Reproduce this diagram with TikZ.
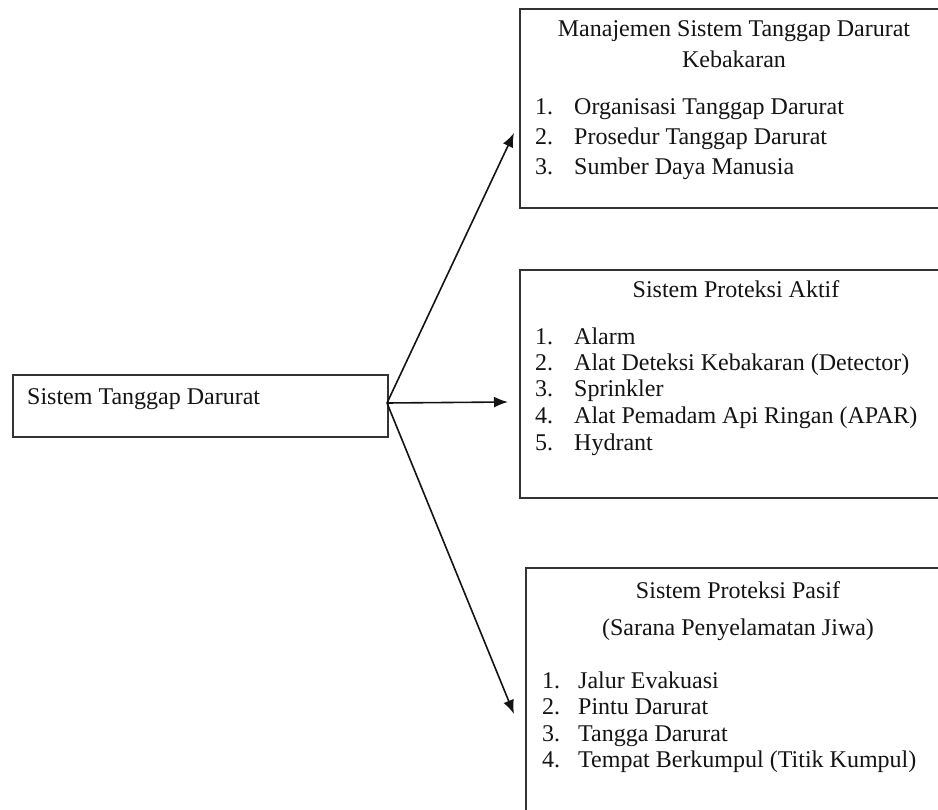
\documentclass[tikz,border=0pt]{standalone}
\usepackage{fontspec}
\setmainfont{Liberation Serif}
\usetikzlibrary{arrows.meta}
\definecolor{ink}{HTML}{141414}
\definecolor{frame}{HTML}{333333}
\tikzset{
  panel/.style={draw=frame, line width=2pt, rectangle, inner sep=0pt, anchor=north west},
  txt/.style={inner sep=0pt, anchor=base west, text=ink, font=\fontsize{24}{30}\selectfont},
  head/.style={txt, anchor=base},
  link/.style={draw=ink, line width=1.6pt, -{Latex[length=14pt,width=11pt]}}
}
\begin{document}
\begin{tikzpicture}[x=1pt, y=-1pt]
\useasboundingbox[fill=white] (0,0) rectangle (938,810);

% source box
\node[panel, minimum width=375pt, minimum height=62pt] (src) at (12,374) {};
\node[txt] (srcT) at (27,405) {Sistem Tanggap Darurat};

% box 1: emergency response management
\node[panel, minimum width=430pt, minimum height=199pt] (b1) at (519,8) {};
\node[head] (b1h1) at (734,37) {Manajemen Sistem Tanggap Darurat};
\node[head] (b1h2) at (734,68) {Kebakaran};
\node[txt] (b1n1) at (535,115) {1.};
\node[txt] (b1i1) at (574,115) {Organisasi Tanggap Darurat};
\node[txt] (b1n2) at (535,145) {2.};
\node[txt] (b1i2) at (574,145) {Prosedur Tanggap Darurat};
\node[txt] (b1n3) at (535,175) {3.};
\node[txt] (b1i3) at (574,175) {Sumber Daya Manusia};

% box 2: active protection
\node[panel, minimum width=430pt, minimum height=228pt] (b2) at (519,269) {};
\node[head] (b2h1) at (736,298) {Sistem Proteksi Aktif};
\node[txt] (b2n1) at (535,345) {1.};
\node[txt] (b2i1) at (574,345) {Alarm};
\node[txt] (b2n2) at (535,371) {2.};
\node[txt] (b2i2) at (574,371) {Alat Deteksi Kebakaran (Detector)};
\node[txt] (b2n3) at (535,397) {3.};
\node[txt] (b2i3) at (574,397) {Sprinkler};
\node[txt] (b2n4) at (535,424) {4.};
\node[txt] (b2i4) at (574,424) {Alat Pemadam Api Ringan (APAR)};
\node[txt] (b2n5) at (535,450) {5.};
\node[txt] (b2i5) at (574,450) {Hydrant};

% box 3: passive protection
\node[panel, minimum width=430pt, minimum height=260pt] (b3) at (525,567) {};
\node[head] (b3h1) at (738,598) {Sistem Proteksi Pasif};
\node[head] (b3h2) at (738,635) {(Sarana Penyelamatan Jiwa)};
\node[txt] (b3n1) at (542,688) {1.};
\node[txt] (b3i1) at (578,688) {Jalur Evakuasi};
\node[txt] (b3n2) at (542,714) {2.};
\node[txt] (b3i2) at (578,714) {Pintu Darurat};
\node[txt] (b3n3) at (542,741) {3.};
\node[txt] (b3i3) at (578,741) {Tangga Darurat};
\node[txt] (b3n4) at (542,767) {4.};
\node[txt] (b3i4) at (578,767) {Tempat Berkumpul (Titik Kumpul)};

% arrow tips just short of each box
\coordinate (fork) at (387,403);
\coordinate (t1) at (514,133);
\coordinate (t2) at (508,402);
\coordinate (t3) at (514,714);

\draw[link] (fork) -- (t1);
\draw[link] (fork) -- (t2);
\draw[link] (fork) -- (t3);
\end{tikzpicture}
\end{document}
